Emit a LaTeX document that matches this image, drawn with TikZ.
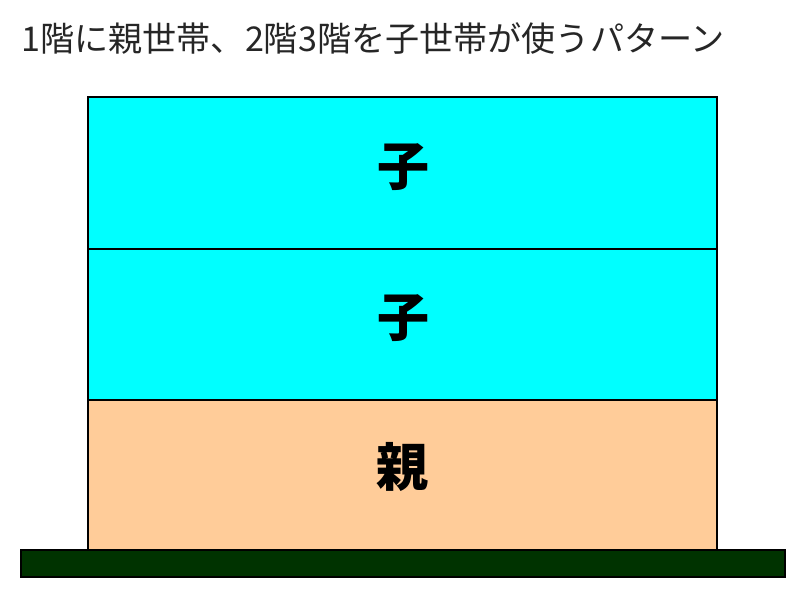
\documentclass[tikz,border=0pt]{standalone}
\usepackage{fontspec}
\newfontfamily\jpfont{Noto Sans CJK JP}
\definecolor{childcyan}{RGB}{0,255,255}
\definecolor{parentpeach}{RGB}{255,204,153}
\definecolor{grounddark}{RGB}{0,51,0}

\begin{document}
\begin{tikzpicture}[x=0.75pt,y=-0.75pt,
    floorbox/.style={draw=black,line width=1.8pt},
    floorname/.style={font=\jpfont\bfseries\fontsize{39}{39}\selectfont,inner sep=0pt}]
    \useasboundingbox (0,0) rectangle (800,600);
    \node[anchor=west,inner sep=0pt,text=black!85,font=\jpfont\fontsize{25.6}{25.6}\selectfont] (title) at (21,38) {1階に親世帯、2階3階を子世帯が使うパターン};
    % floors
    \draw[floorbox,fill=childcyan] (88,97) rectangle (717,249);
    \draw[floorbox,fill=childcyan] (88,249) rectangle (717,400);
    \draw[floorbox,fill=parentpeach] (88,400) rectangle (717,550);
    \draw[floorbox,fill=grounddark] (21,550) rectangle (785,577); %ground
    \node[floorname] (third) at (403,167) {子};
    \node[floorname] (second) at (403,318) {子};
    \node[floorname] (first) at (402,467) {親};
  \end{tikzpicture}
\end{document}
